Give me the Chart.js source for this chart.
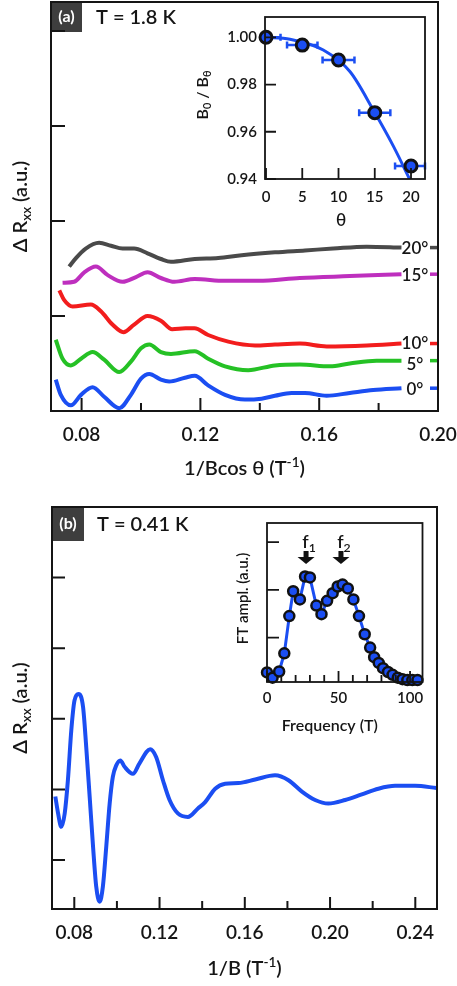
<!DOCTYPE html>
<html>
<head>
<meta charset="utf-8">
<script src="https://cdn.jsdelivr.net/npm/chart.js@4/dist/chart.umd.min.js"></script>
<style>
    body { margin: 0; background: #fff; }
    #wrap { position: relative; width: 457px; height: 986px; }
    canvas { position: absolute; }
</style>
</head>
<body>
<div id="wrap">
    <canvas id="ca" style="left:0;top:0" width="457" height="486"></canvas>
    <canvas id="cai" style="left:185px;top:8px" width="250" height="225"></canvas>
    <canvas id="cb" style="left:0;top:486px" width="457" height="500"></canvas>
    <canvas id="cbi" style="left:230px;top:515px" width="200" height="225"></canvas>
</div>
<script>
const FONT = "Lato, 'Open Sans', 'DejaVu Sans', sans-serif";
const WEIGHT = '600';
const INK = '#151515';

// panel (a): T = 1.8 K, one trace per tilt angle (1/Bcos θ, ΔRxx in a.u.)
const angleLabels = ['0°', '5°', '10°', '15°', '20°'];
const angleColors = ['#1b4ef2', '#25c125', '#f21d1d', '#be2fbe', '#4a4a4a'];
const a0x = [0.0713, 0.0730, 0.0764, 0.0798, 0.0837, 0.0876, 0.0927, 0.0966, 0.1000, 0.1028, 0.1067, 0.1095, 0.1148, 0.1181, 0.1226, 0.1283, 0.1350, 0.1406, 0.1451, 0.1507, 0.1552, 0.1625, 0.1703, 0.1782, 0.1877];
const a0y = [0.33, 0.17, 0.06, 0.17, 0.25, 0.15, 0.03, 0.17, 0.34, 0.39, 0.33, 0.31, 0.35, 0.37, 0.27, 0.17, 0.12, 0.13, 0.16, 0.19, 0.19, 0.16, 0.19, 0.22, 0.24];
const a5x = [0.0713, 0.0736, 0.0764, 0.0798, 0.0837, 0.0876, 0.0927, 0.0966, 0.1000, 0.1028, 0.1067, 0.1101, 0.1181, 0.1226, 0.1283, 0.1361, 0.1451, 0.1535, 0.1636, 0.1703, 0.1793, 0.1877];
const a5y = [0.75, 0.55, 0.48, 0.55, 0.62, 0.54, 0.41, 0.52, 0.66, 0.70, 0.62, 0.60, 0.63, 0.55, 0.47, 0.43, 0.48, 0.49, 0.47, 0.50, 0.53, 0.53];
const a10x = [0.0725, 0.0741, 0.0770, 0.0831, 0.0865, 0.0904, 0.0941, 0.0977, 0.1022, 0.1067, 0.1105, 0.1150, 0.1180, 0.1226, 0.1294, 0.1384, 0.1451, 0.1535, 0.1625, 0.1760, 0.1877];
const a10y = [1.27, 1.17, 1.10, 1.12, 1.05, 0.91, 0.83, 0.91, 1.00, 0.95, 0.86, 0.87, 0.87, 0.80, 0.73, 0.69, 0.70, 0.71, 0.68, 0.69, 0.71];
const a15x = [0.0736, 0.0775, 0.0809, 0.0848, 0.0888, 0.0938, 0.0983, 0.1022, 0.1067, 0.1112, 0.1181, 0.1283, 0.1395, 0.1535, 0.1703, 0.1877];
const a15y = [1.35, 1.36, 1.46, 1.52, 1.43, 1.36, 1.41, 1.46, 1.40, 1.36, 1.39, 1.37, 1.37, 1.40, 1.42, 1.44];
const a20x = [0.0758, 0.0781, 0.0814, 0.0859, 0.0899, 0.0938, 0.0977, 0.1022, 0.1067, 0.1101, 0.1181, 0.1260, 0.1339, 0.1451, 0.1552, 0.1647, 0.1760, 0.1877];
const a20y = [1.52, 1.61, 1.71, 1.77, 1.74, 1.71, 1.71, 1.66, 1.60, 1.57, 1.60, 1.61, 1.64, 1.67, 1.69, 1.71, 1.73, 1.72];
const aTicksMajor = [0.08, 0.12, 0.16, 0.20];
const aTicksMinor = [0.10, 0.14, 0.18];
const aTicksY = [1, 2, 3, 4];

// inset (a): B0/Bθ against θ
const thetaPts = [0, 5, 10, 15, 20];
const ratioPts = [1.000, 0.9967, 0.9904, 0.9681, 0.9455];
const thetaErr = [2.0, 2.1, 2.2, 2.15, 2.2];
const fitTheta = [0, 3.3, 7.9, 11.6, 14.8, 17.6, 19.8];
const fitRatio = [1.000, 0.9992, 0.9946, 0.9854, 0.9692, 0.9537, 0.940];
const thetaTicks = [0, 5, 10, 15, 20];
const ratioTicks = [0.94, 0.96, 0.98, 1.00];

// panel (b): T = 0.41 K
const bx = [0.0711, 0.0724, 0.0739, 0.0755, 0.0770, 0.0786, 0.0801, 0.0820, 0.0841, 0.0856, 0.0872, 0.0888, 0.0903, 0.0919, 0.0934, 0.0950, 0.0966, 0.0981, 0.0997, 0.1016, 0.1036, 0.1075, 0.1106, 0.1156, 0.1184, 0.1216, 0.1247, 0.1286, 0.1333, 0.1380, 0.1414, 0.1461, 0.1508, 0.1570, 0.1649, 0.1742, 0.1805, 0.1868, 0.1930, 0.1992, 0.2071, 0.2149, 0.2227, 0.2305, 0.2399, 0.2500];
const by = [-0.10, -0.34, -0.53, -0.34, 0.13, 0.84, 1.26, 1.35, 1.17, 0.60, -0.10, -0.81, -1.38, -1.59, -1.38, -0.81, -0.20, 0.18, 0.34, 0.41, 0.32, 0.22, 0.37, 0.57, 0.46, 0.13, -0.15, -0.34, -0.39, -0.27, -0.18, 0.01, 0.08, 0.09, 0.14, 0.20, 0.13, -0.03, -0.15, -0.20, -0.15, -0.07, 0.01, 0.05, 0.05, 0.02];
const bTicksMajor = [0.08, 0.12, 0.16, 0.20, 0.24];
const bTicksMinor = [0.10, 0.14, 0.18, 0.22];
const bTicksY = [-1, 0, 1, 2, 3];

// inset (b): Fourier transform
const freq = [0, 3.9, 8.5, 12.1, 15.6, 18.3, 23.0, 26.6, 30.0, 34.5, 38.1, 42.0, 45.9, 49.4, 52.8, 56.5, 60.4, 64.3, 68.3, 72.1, 74.9, 78.1, 81.1, 84.6, 87.8, 91.4, 94.7, 98.1, 101.6, 105.2];
const ftAmp = [0.27, 0.16, 0.29, 0.67, 1.45, 1.97, 1.80, 2.28, 2.26, 1.67, 1.49, 1.77, 1.93, 2.07, 2.11, 2.03, 1.80, 1.45, 1.07, 0.79, 0.59, 0.47, 0.36, 0.28, 0.22, 0.16, 0.13, 0.11, 0.11, 0.11];
const peakFreq = [27.3, 51.7];
const peakNames = ['1', '2'];
const freqMajor = [0, 50, 100];
const freqMinor = [10, 20, 30, 40, 60, 70, 80, 90];
const ampTicks = [1, 2, 3];

const BLUE = '#1b4ef2';

function xy(xs, ys) {
    return xs.map((x, i) => ({ x: x, y: ys[i] }));
}

function near(list, v) {
    return list.some(m => Math.abs(m - v) < 1e-9);
}

// text with sub/superscripts: parts = [[text, 0 | -1 sub | 1 sup], ...]
function rich(ctx, parts, x, y, size, rot) {
    const fnt = s => WEIGHT + ' ' + s + 'px ' + FONT;
    let w = 0;
    parts.forEach(p => {
        ctx.font = fnt(p[1] ? size * 0.68 : size);
        w += ctx.measureText(p[0]).width;
    });
    ctx.save();
    ctx.translate(x, y);
    ctx.rotate(rot || 0);
    ctx.fillStyle = INK;
    ctx.textAlign = 'left';
    ctx.textBaseline = 'alphabetic';
    let cx = -w / 2;
    parts.forEach(p => {
        ctx.font = fnt(p[1] ? size * 0.68 : size);
        const dy = p[1] === -1 ? size * 0.2 : (p[1] === 1 ? -size * 0.42 : 0);
        ctx.fillText(p[0], cx, size * 0.36 + dy);
        cx += ctx.measureText(p[0]).width;
    });
    ctx.restore();
}

function axis(min, max, list, o) {
    return {
        type: 'linear', min: min, max: max,
        grid: { display: false, drawTicks: false },
        border: { display: false },
        afterBuildTicks: s => { s.ticks = list.map(v => ({ value: v })); },
        afterFit: s => {
            if (o.w !== undefined) s.width = o.w;
            if (o.h !== undefined) s.height = o.h;
            s.paddingLeft = 0; s.paddingRight = 0; s.paddingTop = 0; s.paddingBottom = 0;
        },
        ticks: {
            display: !!o.labels, autoSkip: false, maxRotation: 0, minRotation: 0,
            padding: o.pad || 0, color: INK,
            font: { family: FONT, size: o.size || 18, weight: WEIGHT },
            callback: v => (o.labels && near(o.labels, v)) ? v.toFixed(o.dec) : ''
        }
    };
}

// box round the plot area with inward tick marks
function frame(xMajors, xLen, xMinorLen, yLen, lw) {
    return {
        id: 'frame',
        afterDraw(chart) {
            const { ctx, chartArea: a, scales: { x, y } } = chart;
            ctx.save();
            ctx.strokeStyle = INK;
            ctx.lineWidth = lw;
            ctx.strokeRect(a.left, a.top, a.right - a.left, a.bottom - a.top);
            ctx.beginPath();
            x.ticks.forEach(t => {
                const p = x.getPixelForValue(t.value);
                const len = near(xMajors, t.value) ? xLen : xMinorLen;
                ctx.moveTo(p, a.bottom);
                ctx.lineTo(p, a.bottom - len);
            });
            y.ticks.forEach(t => {
                const p = y.getPixelForValue(t.value);
                ctx.moveTo(a.left, p);
                ctx.lineTo(a.left + yLen, p);
            });
            ctx.stroke();
            ctx.restore();
        }
    };
}

function panelTag(tag, text, w, h) {
    return {
        id: 'tag',
        beforeDatasetsDraw(chart) {
            const { ctx, chartArea: a } = chart;
            ctx.save();
            ctx.fillStyle = '#3e3e3e';
            ctx.fillRect(a.left, a.top, w, h);
            ctx.fillStyle = '#fff';
            ctx.font = 'bold 16px ' + FONT;
            ctx.textAlign = 'center';
            ctx.textBaseline = 'middle';
            ctx.fillText(tag, a.left + w / 2, a.top + h / 2);
            ctx.fillStyle = INK;
            ctx.font = WEIGHT + ' 20px ' + FONT;
            ctx.textAlign = 'left';
            ctx.fillText(text, a.left + 45, a.top + h / 2 + 1);
            ctx.restore();
        }
    };
}

const base = {
    responsive: false,
    animation: false,
    events: [],
    plugins: { legend: { display: false }, tooltip: { enabled: false } }
};

function line(data, color, width) {
    return {
        data: data, showLine: true, borderColor: color, borderWidth: width,
        pointRadius: 0, cubicInterpolationMode: 'monotone', fill: false
    };
}

// ---------- panel (a)
const aSeries = [xy(a0x, a0y), xy(a5x, a5y), xy(a10x, a10y), xy(a15x, a15y), xy(a20x, a20y)];
const labelShift = [1, 4, 0, 1, 1];

new Chart(document.getElementById('ca'), {
    type: 'scatter',
    data: { datasets: aSeries.map((d, i) => line(d, angleColors[i], 4)) },
    options: Object.assign({}, base, {
        layout: { padding: { top: 2, right: 19, left: 0, bottom: 0 } },
        scales: {
            x: axis(0.0697, 0.2, aTicksMajor.concat(aTicksMinor), { h: 75, labels: aTicksMajor, dec: 2, pad: 12, size: 19 }),
            y: axis(0, 4.305, aTicksY, { w: 51 })
        }
    }),
    plugins: [
        panelTag('(a)', 'T = 1.8 K', 31, 30),
        {
            id: 'angles',
            afterDatasetsDraw(chart) {
                const { ctx, chartArea: a } = chart;
                ctx.save();
                chart.data.datasets.forEach((ds, i) => {
                    const pts = chart.getDatasetMeta(i).data;
                    const last = pts[pts.length - 1];
                    ctx.fillStyle = INK;
                    ctx.font = WEIGHT + ' 17px ' + FONT;
                    ctx.textAlign = 'center';
                    ctx.textBaseline = 'middle';
                    ctx.fillText(angleLabels[i], last.x + 13.5, last.y + labelShift[i]);
                    ctx.strokeStyle = angleColors[i];
                    ctx.lineWidth = 3.5;
                    ctx.beginPath();
                    ctx.moveTo(a.right - 8, last.y);
                    ctx.lineTo(a.right, last.y);
                    ctx.stroke();
                });
                rich(ctx, [['Δ R', 0], ['xx', -1], [' (a.u.)', 0]], 20, (a.top + a.bottom) / 2, 20, -Math.PI / 2);
                rich(ctx, [['1/Bcos θ (T', 0], ['-1', 1], [')', 0]], (a.left + a.right) / 2, 468, 20, 0);
                ctx.restore();
            }
        },
        frame(aTicksMajor, 13, 8, 14, 2)
    ]
});

// ---------- inset (a)
new Chart(document.getElementById('cai'), {
    type: 'scatter',
    data: {
        datasets: [
            {
                data: xy(thetaPts, ratioPts), pointRadius: 6, pointBorderWidth: 3,
                pointBorderColor: '#111', pointBackgroundColor: BLUE, clip: false
            },
            line(xy(fitTheta, fitRatio), BLUE, 3)
        ]
    },
    options: Object.assign({}, base, {
        layout: { padding: { top: 9, right: 10, left: 0, bottom: 0 } },
        scales: {
            x: axis(-0.14, 21.93, thetaTicks, { h: 54, labels: thetaTicks, dec: 0, pad: 9, size: 15 }),
            y: axis(0.94, 1.0086, ratioTicks, { w: 80, labels: ratioTicks, dec: 2, pad: 8, size: 15 })
        }
    }),
    plugins: [
        {
            id: 'errbars',
            beforeDatasetsDraw(chart) {
                const { ctx, chartArea: a, scales: { x, y } } = chart;
                ctx.save();
                ctx.strokeStyle = BLUE;
                ctx.lineWidth = 2.5;
                ctx.beginPath();
                thetaPts.forEach((t, i) => {
                    const py = y.getPixelForValue(ratioPts[i]);
                    const x0 = Math.max(a.left, x.getPixelForValue(t - thetaErr[i]));
                    const x1 = Math.min(a.right, x.getPixelForValue(t + thetaErr[i]));
                    ctx.moveTo(x0, py); ctx.lineTo(x1, py);
                    ctx.moveTo(x0, py - 3.5); ctx.lineTo(x0, py + 3.5);
                    ctx.moveTo(x1, py - 3.5); ctx.lineTo(x1, py + 3.5);
                });
                ctx.stroke();
                ctx.restore();
            },
            afterDatasetsDraw(chart) {
                const { ctx, chartArea: a } = chart;
                rich(ctx, [['B', 0], ['0', -1], [' / B', 0], ['θ', -1]], 17, (a.top + a.bottom) / 2 - 3, 16, -Math.PI / 2);
                rich(ctx, [['θ', 0]], (a.left + a.right) / 2 - 4, 212, 17, 0);
            }
        },
        frame(thetaTicks, 11, 11, 11, 1.8)
    ]
});

// ---------- panel (b)
new Chart(document.getElementById('cb'), {
    type: 'scatter',
    data: { datasets: [line(xy(bx, by), BLUE, 4)] },
    options: Object.assign({}, base, {
        layout: { padding: { top: 21, right: 20, left: 0, bottom: 0 } },
        scales: {
            x: axis(0.06954, 0.25018, bTicksMajor.concat(bTicksMinor), { h: 77, labels: bTicksMajor, dec: 2, pad: 12, size: 19 }),
            y: axis(-1.694, 4.0, bTicksY, { w: 52 })
        }
    }),
    plugins: [
        panelTag('(b)', 'T = 0.41 K', 32, 34),
        {
            id: 'titlesB',
            afterDatasetsDraw(chart) {
                const { ctx, chartArea: a } = chart;
                rich(ctx, [['Δ R', 0], ['xx', -1], [' (a.u.)', 0]], 20, (a.top + a.bottom) / 2, 20, -Math.PI / 2);
                rich(ctx, [['1/B (T', 0], ['-1', 1], [')', 0]], (a.left + a.right) / 2, 482, 20, 0);
            }
        },
        frame(bTicksMajor, 12, 8, 13, 2)
    ]
});

// ---------- inset (b)
new Chart(document.getElementById('cbi'), {
    type: 'scatter',
    data: {
        datasets: [{
            data: xy(freq, ftAmp), showLine: true, borderColor: BLUE, borderWidth: 3,
            pointRadius: 5, pointBorderWidth: 2.5, pointBorderColor: '#111',
            pointBackgroundColor: BLUE, clip: false
        }]
    },
    options: Object.assign({}, base, {
        layout: { padding: { top: 8, right: 6, left: 0, bottom: 0 } },
        scales: {
            x: axis(0, 108.7, freqMajor.concat(freqMinor), { h: 58, labels: freqMajor, dec: 0, pad: 7, size: 15 }),
            y: axis(0.07, 3.40, ampTicks, { w: 37 })
        }
    }),
    plugins: [
        {
            id: 'peaks',
            afterDatasetsDraw(chart) {
                const { ctx, chartArea: a, scales: { x } } = chart;
                ctx.save();
                ctx.fillStyle = '#111';
                peakFreq.forEach((f, i) => {
                    const px = x.getPixelForValue(f);
                    const tip = a.top + 41;
                    ctx.fillRect(px - 2.5, tip - 13, 5, 7);
                    ctx.beginPath();
                    ctx.moveTo(px - 8.5, tip - 7);
                    ctx.lineTo(px + 8.5, tip - 7);
                    ctx.lineTo(px, tip);
                    ctx.closePath();
                    ctx.fill();
                    rich(ctx, [['f', 0], [peakNames[i], -1]], px + 3, tip - 22, 18, 0);
                });
                ctx.restore();
                rich(ctx, [['FT ampl. (a.u.)', 0]], 13, (a.top + a.bottom) / 2 - 4, 15, -Math.PI / 2);
                rich(ctx, [['Frequency (T)', 0]], (a.left + a.right) / 2 - 15, 210, 16, 0);
            }
        },
        frame(freqMajor, 11, 7, 12, 1.8)
    ]
});
</script>
</body>
</html>
